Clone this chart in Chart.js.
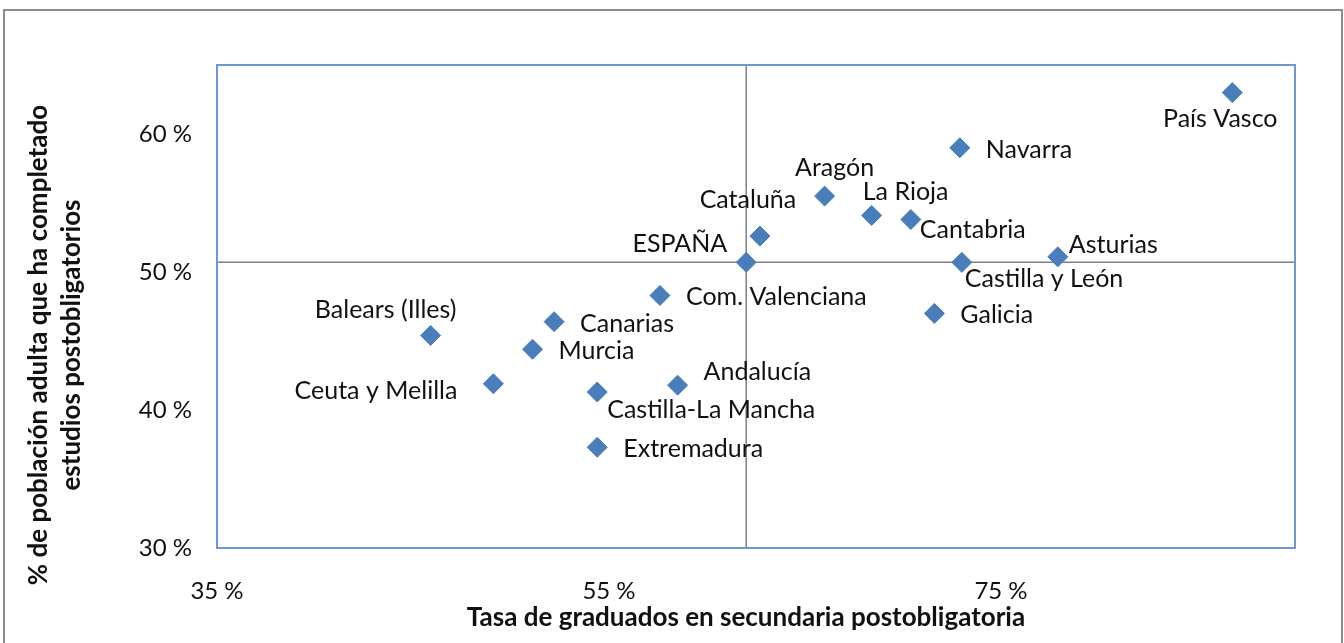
<!DOCTYPE html>
<html>
<head>
<meta charset="utf-8">
<title>Graduados vs población adulta</title>
<script src="https://cdn.jsdelivr.net/npm/chart.js@4.4.0/dist/chart.umd.min.js"></script>
<style>
  body { margin: 0; background: #fff; }
  canvas { display: block; }
</style>
</head>
<body>
<canvas id="myChart" width="1344" height="643"></canvas>
<script>
// datos (%)
const regiones = ['País Vasco', 'Navarra', 'Aragón', 'La Rioja', 'Cantabria', 'Cataluña',
    'ESPAÑA', 'Castilla y León', 'Asturias', 'Galicia', 'Com. Valenciana', 'Canarias',
    'Balears (Illes)', 'Murcia', 'Ceuta y Melilla', 'Andalucía', 'Castilla-La Mancha', 'Extremadura'];
const tasaGraduados = [86.8, 72.9, 66.0, 68.4, 70.4, 62.7,
    62.0, 73.0, 77.9, 71.6, 57.6, 52.2,
    45.9, 51.1, 49.1, 58.5, 54.4, 54.4];
const poblacionPostob = [63.0, 59.0, 55.5, 54.1, 53.8, 52.6,
    50.7, 50.7, 51.1, 47.0, 48.3, 46.4,
    45.4, 44.4, 41.9, 41.8, 41.3, 37.3];
const xTicks = [35, 55, 75];
const yTicks = [30, 40, 50, 60];
const xRange = [35, 90];
const yRange = [30, 65];

// donde va cada etiqueta respecto a su punto: [align, dx, dy]
const labelPlace = {
    'País Vasco': ['center', -12, 26],
    'Navarra': ['left', 26, 2],
    'Aragón': ['center', 10, -28],
    'La Rioja': ['center', 34, -23],
    'Cantabria': ['left', 9, 10],
    'Cataluña': ['center', -12, -36],
    'ESPAÑA': ['right', -19, -18],
    'Castilla y León': ['left', 3, 17],
    'Asturias': ['left', 11, -12],
    'Galicia': ['left', 26, 2],
    'Com. Valenciana': ['left', 26, 1],
    'Canarias': ['left', 26, 2],
    'Balears (Illes)': ['center', -45, -26],
    'Murcia': ['left', 26, 2],
    'Ceuta y Melilla': ['right', -36, 7],
    'Andalucía': ['left', 26, -13],
    'Castilla-La Mancha': ['left', 10, 18],
    'Extremadura': ['left', 26, 2]
};

const FONT = 'Lato, "Open Sans", sans-serif';
const iEsp = regiones.indexOf('ESPAÑA');
const espX = tasaGraduados[iEsp];
const espY = poblacionPostob[iEsp];

const puntos = regiones.map((r, i) => ({x: tasaGraduados[i], y: poblacionPostob[i]}));

const framePlugin = {
    id: 'frame',
    beforeDraw(chart) {
        const c = chart.ctx;
        c.save();
        c.fillStyle = '#fff';
        c.fillRect(0, 0, chart.width, chart.height);
        c.strokeStyle = '#8c8c8c';
        c.lineWidth = 2;
        c.strokeRect(4, 10, chart.width - 6, chart.height);
        c.restore();
    },
    afterDatasetsDraw(chart) {
        const c = chart.ctx;
        const a = chart.chartArea;
        c.save();
        c.strokeStyle = '#6A97D3';
        c.lineWidth = 2;
        c.strokeRect(a.left, a.top, a.right - a.left, a.bottom - a.top);
        c.restore();
    }
};

const labelsPlugin = {
    id: 'etiquetas',
    afterDraw(chart) {
        const c = chart.ctx;
        const meta = chart.getDatasetMeta(2);
        c.save();
        c.font = '25px ' + FONT;
        c.fillStyle = '#111';
        c.textBaseline = 'middle';
        meta.data.forEach((pt, i) => {
            const p = labelPlace[regiones[i]] || ['left', 14, 0];
            c.textAlign = p[0];
            c.fillText(regiones[i], pt.x + p[1], pt.y + p[2]);
        });
        // titulos de los ejes
        c.font = 'bold 26px ' + FONT;
        c.textAlign = 'center';
        c.fillText('Tasa de graduados en secundaria postobligatoria', 746, 618);
        c.translate(39, 345);
        c.rotate(-Math.PI / 2);
        c.fillText('% de población adulta que ha completado', 0, 0);
        c.fillText('estudios postobligatorios', 0, 33);
        c.restore();
    }
};

new Chart(document.getElementById('myChart'), {
    type: 'scatter',
    data: {
        datasets: [{
            type: 'line',
            data: [{x: espX, y: yRange[0]}, {x: espX, y: yRange[1]}],
            borderColor: '#808080',
            borderWidth: 1.5,
            pointRadius: 0,
            order: 2
        }, {
            type: 'line',
            data: [{x: xRange[0], y: espY}, {x: xRange[1], y: espY}],
            borderColor: '#808080',
            borderWidth: 1.5,
            pointRadius: 0,
            order: 2
        }, {
            data: puntos,
            pointStyle: 'rectRot',
            pointRadius: 10,
            backgroundColor: '#4A7EBB',
            borderColor: '#4A7EBB',
            borderWidth: 1,
            order: 0
        }]
    },
    options: {
        responsive: false,
        animation: false,
        layout: {
            padding: {left: 0, top: 65, right: 49, bottom: 0}
        },
        plugins: {
            legend: {display: false},
            tooltip: {enabled: false}
        },
        scales: {
            x: {
                type: 'linear',
                min: xRange[0],
                max: xRange[1],
                grid: {display: false, drawTicks: false},
                border: {display: false},
                afterBuildTicks: axis => { axis.ticks = xTicks.map(v => ({value: v})); },
                afterFit: axis => { axis.height = 95; },
                ticks: {
                    padding: 29,
                    color: '#111',
                    font: {family: FONT, size: 24},
                    callback: v => v + ' %'
                }
            },
            y: {
                type: 'linear',
                min: yRange[0],
                max: yRange[1],
                grid: {display: false, drawTicks: false},
                border: {display: false},
                afterBuildTicks: axis => { axis.ticks = yTicks.map(v => ({value: v})); },
                afterFit: axis => { axis.width = 217; },
                ticks: {
                    padding: 25,
                    color: '#111',
                    font: {family: FONT, size: 24},
                    callback: v => v + ' %'
                }
            }
        }
    },
    plugins: [framePlugin, labelsPlugin]
});
</script>
</body>
</html>
